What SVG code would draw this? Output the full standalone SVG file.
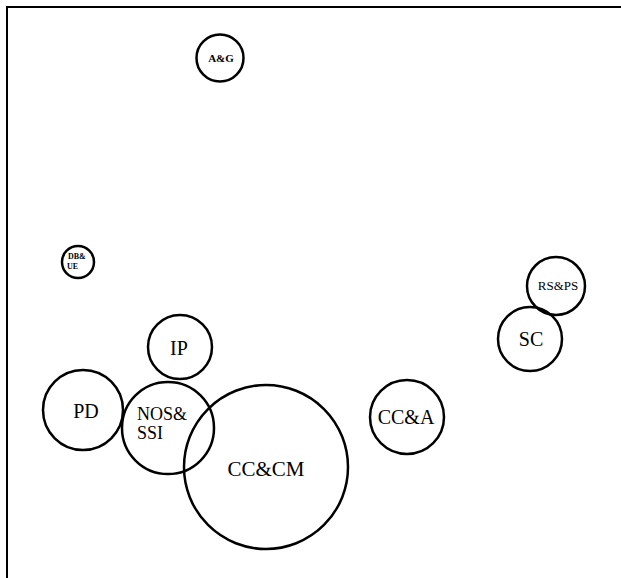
<svg xmlns="http://www.w3.org/2000/svg" width="621" height="578" viewBox="0 0 621 578">
<style>
.c{fill:none;stroke:#000;stroke-width:2.5}
.t{font-family:"Liberation Serif",serif;fill:#000;text-anchor:middle}
.l{font-family:"Liberation Serif",serif;fill:#000;text-anchor:start}
</style>
<rect width="621" height="578" fill="#fff"/>
<g id="frame"><path d="M7,578 V7 H621" fill="none" stroke="#000" stroke-width="2"/></g>
<g id="connectors"></g>
<g id="AG"><circle class="c" cx="220" cy="58" r="23.5"/><text class="t" x="221" y="62" font-size="11" font-weight="bold">A&amp;G</text></g>
<g id="DBUE"><circle class="c" cx="78" cy="262" r="16"/><text class="l" x="68" y="259" font-size="8" font-weight="bold">DB&amp;</text><text class="l" x="67" y="269" font-size="8" font-weight="bold">UE</text></g>
<g id="RSPS"><circle class="c" cx="556" cy="286" r="29"/><text class="t" x="558" y="290" font-size="13">RS&amp;PS</text></g>
<g id="SC"><circle class="c" cx="530" cy="339" r="32"/><text class="t" x="531" y="346" font-size="20">SC</text></g>
<g id="IP"><circle class="c" cx="180" cy="347" r="32"/><text class="t" x="179" y="355" font-size="20">IP</text></g>
<g id="PD"><circle class="c" cx="83" cy="410" r="40"/><text class="t" x="86" y="418" font-size="20">PD</text></g>
<g id="NOSSSI"><circle class="c" cx="168" cy="428" r="46"/><text class="l" x="137" y="420" font-size="18">NOS&amp;</text><text class="l" x="137" y="439" font-size="18">SSI</text></g>
<g id="CCCM"><circle class="c" cx="266" cy="467" r="82"/><text class="t" x="266" y="476" font-size="21">CC&amp;CM</text></g>
<g id="CCA"><circle class="c" cx="407" cy="417" r="37"/><text class="t" x="406" y="424" font-size="20">CC&amp;A</text></g>
</svg>
